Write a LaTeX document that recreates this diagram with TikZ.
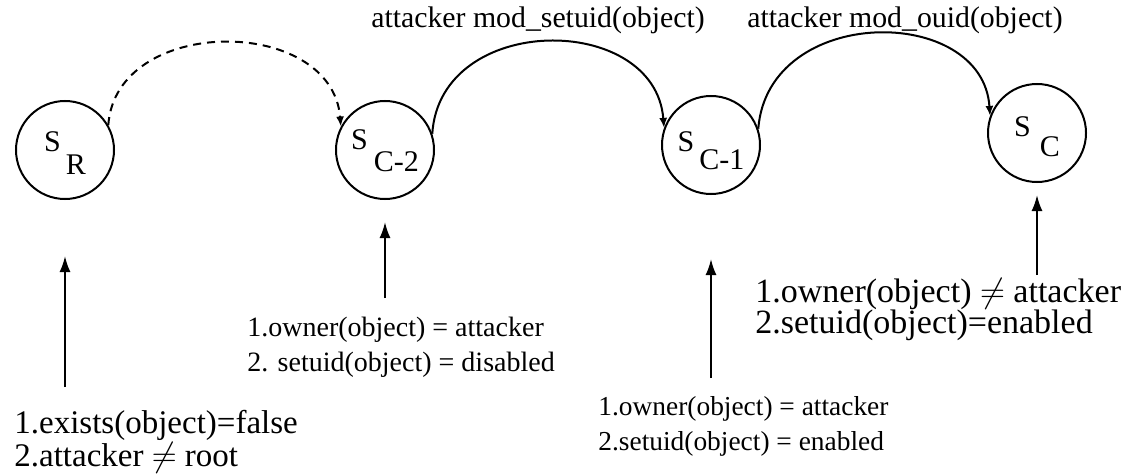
\documentclass[tikz,border=0pt]{standalone}
\usepackage{fontspec}
\setmainfont{Liberation Serif}
\usetikzlibrary{arrows.meta}
\begin{document}
\begin{tikzpicture}[x=0.5pt,y=-0.5pt,
  st/.style={circle, draw, line width=1pt, minimum size=49pt, inner sep=0pt, font=\fontsize{15}{16}\selectfont},
  lbl/.style={inner sep=0pt, align=left, anchor=north west},
  arr/.style={line width=1pt, -{Latex[length=8pt,width=5.5pt]}},
  trans/.style={line width=1pt, -{Latex[length=5pt,width=4pt]}},
  toplbl/.style={inner sep=0pt, anchor=base, font=\fontsize{14.9}{16}\selectfont}]
\useasboundingbox (0,0) rectangle (1124,476);
% states
\node[st] (sR)  at (65,150)  {\rule{0pt}{13.5pt}S\hspace{2.5pt}\raisebox{-11.5pt}{R}};
\node[st] (sC2) at (385,150) {\rule{0pt}{11pt}S\hspace{3pt}\raisebox{-11pt}{C-2}\hspace{5pt}};
\node[st] (sC1) at (711,145) {\rule{0pt}{16pt}S\hspace{2.5pt}\raisebox{-9pt}{C-1}};
\node[st] (sC)  at (1037,133) {\rule{0pt}{14pt}S\hspace{4.5pt}\raisebox{-10pt}{C}};
% transitions
\draw[trans, dash pattern=on 4pt off 3pt] (sR.30) .. controls (116,15) and (332,15) .. (sC2.152);
\draw[trans] (sC2.19) .. controls (440,12) and (655,12) .. (sC1.160);
\draw[trans] (sC1.19) .. controls (768,4) and (983,4) .. (sC.160);
% transition labels
\node[toplbl] (t1) at (538,28) {attacker mod\_setuid(object)};
\node[toplbl] (t2) at (905,28) {attacker mod\_ouid(object)};
% condition labels
\node[lbl, font=\fontsize{16.5}{15}\selectfont] (lR) at (14,410) {1.exists(object)=false\\2.attacker $\neq$ root};
\node[lbl, font=\fontsize{14}{17.5}\selectfont] (lC2) at (247,317) {1.owner(object) = attacker\\2. setuid(object) = disabled};
\node[lbl, font=\fontsize{13.7}{17.5}\selectfont] (lC1) at (598,396) {1.owner(object) = attacker\\2.setuid(object) = enabled};
\node[lbl, font=\fontsize{17}{15.5}\selectfont] (lC) at (755,278) {1.owner(object) $\neq$ attacker\\2.setuid(object)=enabled};
% condition arrows
\draw[arr, shorten <=11.5pt, shorten >=28pt] (sR |- lR.north) -- (sR.south);
\draw[arr, shorten <=9.5pt, shorten >=11pt] (sC2 |- lC2.north) -- (sC2.south);
\draw[arr, shorten <=9pt, shorten >=32pt] (sC1 |- lC1.north) -- (sC1.south);
\draw[arr, shorten <=1.5pt, shorten >=6pt] (sC |- lC.north) -- (sC.south);
\end{tikzpicture}
\end{document}
